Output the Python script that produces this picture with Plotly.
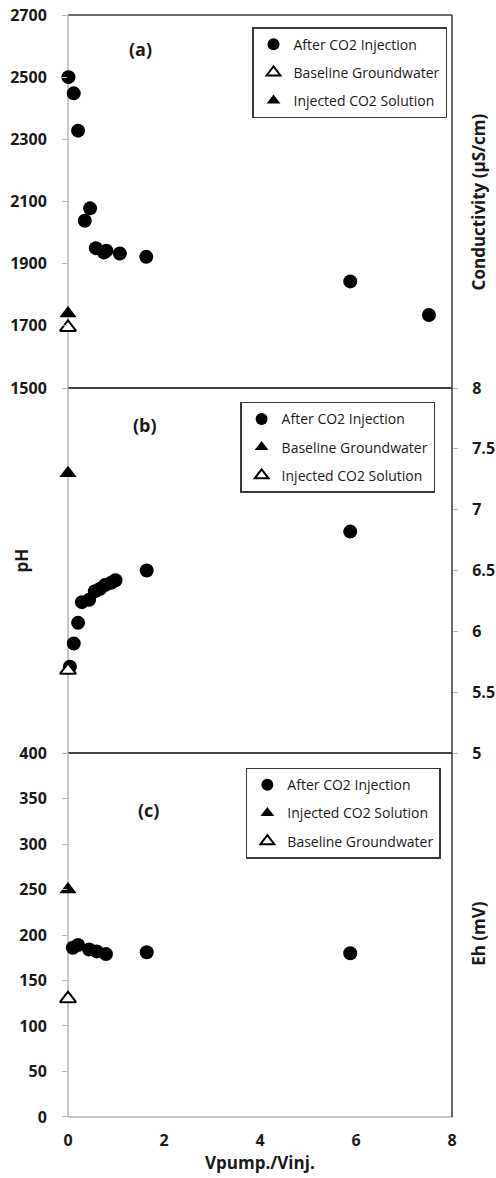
import plotly.graph_objects as go

# ---------------- data ----------------
x_ticks = [0, 2, 4, 6, 8]

# (a) Conductivity (uS/cm)
cond_after_x = [0.01, 0.12, 0.21, 0.35, 0.46, 0.58, 0.75, 0.80, 1.08, 1.63, 5.88, 7.52]
cond_after_y = [2500, 2448, 2328, 2038, 2078, 1950, 1936, 1942, 1933, 1922, 1843, 1735]
cond_base_x = [0]
cond_base_y = [1695]
cond_inj_x = [0]
cond_inj_y = [1740]
cond_ticks = [1500, 1700, 1900, 2100, 2300, 2500, 2700]

# (b) pH
ph_after_x = [0.04, 0.12, 0.21, 0.29, 0.44, 0.56, 0.67, 0.77, 0.90, 0.99, 1.64, 5.88]
ph_after_y = [5.71, 5.90, 6.07, 6.24, 6.26, 6.33, 6.35, 6.38, 6.40, 6.42, 6.50, 6.82]
ph_base_x = [0]
ph_base_y = [7.3]
ph_inj_x = [0]
ph_inj_y = [5.68]
ph_ticks = [5, 5.5, 6, 6.5, 7, 7.5, 8]

# (c) Eh (mV)
eh_after_x = [0.10, 0.21, 0.44, 0.60, 0.79, 1.64, 5.88]
eh_after_y = [186, 189, 184, 182, 179, 181, 180]
eh_inj_x = [0]
eh_inj_y = [250]
eh_base_x = [0]
eh_base_y = [130]
eh_ticks = [0, 50, 100, 150, 200, 250, 300, 350, 400]

# ---------------- styling ----------------
FONT = "Open Sans"
DARK = "#3a3a3a"
GRAY = "#b5b5b5"

circle = dict(symbol="circle", size=14, color="black")
filled_tri = dict(symbol="triangle-up", size=15, color="black")
open_tri = dict(symbol="triangle-up", size=14, color="white", line=dict(color="black", width=2))

fig = go.Figure()


def add(x, y, name, marker, xa, ya, leg, grp):
    fig.add_trace(go.Scatter(
        x=x, y=y, mode="markers", name=name, marker=marker,
        xaxis=xa, yaxis=ya, legend=leg, legendgroup=grp, cliponaxis=False,
    ))


# panel (a)
add(cond_after_x, cond_after_y, "After CO2 Injection", circle, "x", "y", "legend", "a1")
add(cond_base_x, cond_base_y, "Baseline Groundwater", open_tri, "x", "y", "legend", "a2")
add(cond_inj_x, cond_inj_y, "Injected CO2 Solution", filled_tri, "x", "y", "legend", "a3")
# panel (b)
add(ph_after_x, ph_after_y, "After CO2 Injection", circle, "x2", "y2", "legend2", "b1")
add(ph_base_x, ph_base_y, "Baseline Groundwater", filled_tri, "x2", "y2", "legend2", "b2")
add(ph_inj_x, ph_inj_y, "Injected CO2 Solution", open_tri, "x2", "y2", "legend2", "b3")
# panel (c)
add(eh_after_x, eh_after_y, "After CO2 Injection", circle, "x3", "y3", "legend3", "c1")
add(eh_inj_x, eh_inj_y, "Injected CO2 Solution", filled_tri, "x3", "y3", "legend3", "c2")
add(eh_base_x, eh_base_y, "Baseline Groundwater", open_tri, "x3", "y3", "legend3", "c3")

tickfont = dict(family=FONT, size=16, color="#1a1a1a", weight="bold")

dom_a = [0.6615, 1.0]
dom_b = [0.3303, 0.6615]
dom_c = [0.0, 0.3303]


def xax(anchor, labels):
    return dict(
        domain=[0, 1], anchor=anchor, range=[0, 8], tickvals=x_ticks,
        showticklabels=labels, showgrid=False, zeroline=False, showline=False,
        ticks="", tickfont=tickfont, ticklabelstandoff=12, automargin=False,
        ticklabeloverflow="allow",
    )


def yax(dom, rng, ticks, side, anchor, standoff):
    return dict(
        domain=dom, range=rng, tickvals=ticks, side=side, anchor=anchor,
        showgrid=False, zeroline=False, showline=False,
        ticks="outside", ticklen=5, tickcolor=GRAY,
        tickfont=tickfont, ticklabelstandoff=standoff, automargin=False,
        ticklabeloverflow="allow",
    )


leg_common = dict(
    bgcolor="white", bordercolor=DARK, borderwidth=1.5,
    font=dict(family=FONT, size=14, color="#1a1a1a"),
    tracegroupgap=7, xanchor="right", yanchor="top", itemsizing="constant",
)

fig.update_layout(
    width=496, height=1178, autosize=False,
    margin=dict(l=68, r=44, t=15, b=61),
    paper_bgcolor="white", plot_bgcolor="white",
    font=dict(family=FONT, color="#1a1a1a"),
    xaxis=xax("y", False),
    xaxis2=xax("y2", False),
    xaxis3=xax("y3", True),
    yaxis=yax(dom_a, [1500, 2700], cond_ticks, "left", "x", 12),
    yaxis2=yax(dom_b, [5, 8], ph_ticks, "right", "x2", 11),
    yaxis3=yax(dom_c, [0, 400], eh_ticks, "left", "x3", 12),
    legend=dict(leg_common, x=0.987, y=0.989),
    legend2=dict(leg_common, x=0.956, y=0.649),
    legend3=dict(leg_common, x=0.971, y=0.317),
    showlegend=True,
)

# frame lines for each panel (left light gray, others dark)
for xa, ya, bottom_color in [("x", "y", DARK), ("x2", "y2", DARK), ("x3", "y3", GRAY)]:
    xr, yr = xa + " domain", ya + " domain"
    fig.add_shape(type="line", xref=xr, yref=yr, x0=0, x1=1, y0=1, y1=1,
                  line=dict(color=DARK, width=1.5), layer="below")
    fig.add_shape(type="line", xref=xr, yref=yr, x0=0, x1=1, y0=0, y1=0,
                  line=dict(color=bottom_color, width=1.5), layer="below")
    fig.add_shape(type="line", xref=xr, yref=yr, x0=1, x1=1, y0=0, y1=1,
                  line=dict(color=DARK, width=1.5), layer="below")
    fig.add_shape(type="line", xref=xr, yref=yr, x0=0, x1=0, y0=0, y1=1,
                  line=dict(color=GRAY, width=1.5), layer="below")

title_font = dict(family=FONT, size=17, color="#1a1a1a", weight="bold")
label_font = dict(family=FONT, size=18, color="#1a1a1a", weight="bold")

annots = [
    dict(text="Conductivity (µS/cm)", xref="paper", yref="paper", x=1.07, y=sum(dom_a) / 2,
         xanchor="center", yanchor="middle",
         textangle=-90, showarrow=False, font=title_font),
    dict(text="pH", xref="paper", yref="paper", x=-0.12, y=0.505,
         xanchor="center", yanchor="middle",
         textangle=-90, showarrow=False, font=title_font),
    dict(text="Eh (mV)", xref="paper", yref="paper", x=1.07, y=0.167,
         xanchor="center", yanchor="middle",
         textangle=-90, showarrow=False, font=title_font),
    dict(text="Vpump./Vinj.", xref="paper", yref="paper", x=0.5, y=-0.0417,
         xanchor="center", yanchor="middle", showarrow=False, font=title_font),
    dict(text="(a)", xref="x", yref="y", x=1.5, y=2590, showarrow=False, font=label_font),
    dict(text="(b)", xref="x2", yref="y2", x=1.6, y=7.7, showarrow=False, font=label_font),
    dict(text="(c)", xref="x3", yref="y3", x=1.67, y=337, showarrow=False, font=label_font),
]
fig.update_layout(annotations=annots)

# remove the default 8px page margin so the figure fills the window exactly
fig.write_html("out.html", config={"displayModeBar": False},
               post_script="document.body.style.margin='0';")
